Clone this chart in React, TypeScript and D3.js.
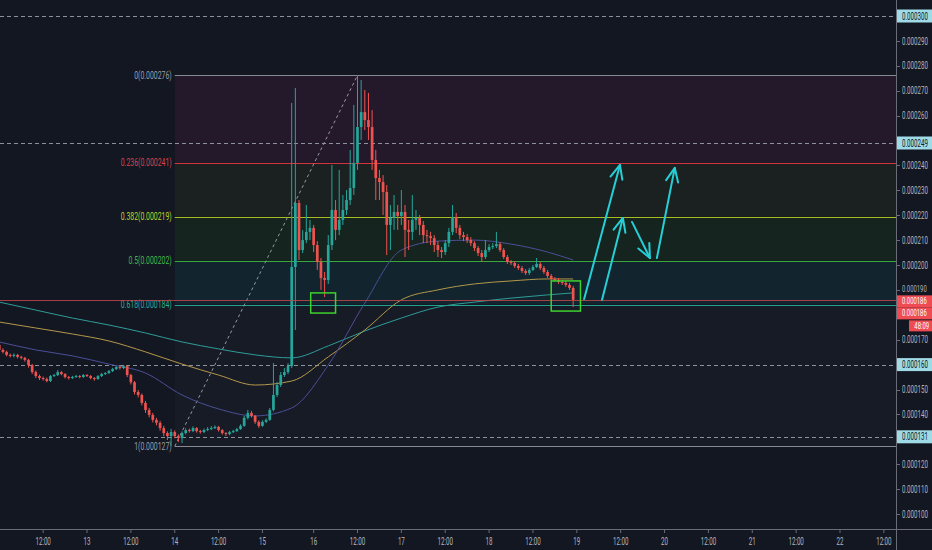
import React from 'react';
import * as d3 from 'd3';

// ---------- DATA (prices in units of 1e-6) ----------
const OPEN0 = 167.9;
const closes = [
  165.9,165.1,163.9,163.5,163.9,163.1,162.7,161.9,159.8,157.0,
  155.4,154.6,154.2,153.4,155.4,155.8,157.0,156.2,155.0,154.6,
  155.0,155.4,155.0,155.8,155.4,154.6,154.2,155.4,156.2,156.6,
  157.4,158.2,159.0,158.6,159.4,155.8,152.9,149.0,147.8,144.6,
  141.8,139.8,137.8,136.6,134.5,132.5,131.3,132.9,131.3,130.5,
  132.5,133.7,133.3,134.5,133.3,132.9,133.7,134.1,134.5,135.0,
  133.7,132.5,132.1,132.9,133.3,134.1,135.4,138.6,140.6,139.4,
  137.0,135.4,137.0,137.8,141.8,147.8,151.8,155.8,157.0,159.4,
  199.2,224.9,206.0,210.0,213.3,214.9,208.0,201.2,194.8,194.0,
  208.0,222.1,214.1,218.1,222.1,226.1,230.9,241.0,255.4,261.4,
  258.2,255.4,242.2,234.9,233.3,229.3,216.1,218.9,221.3,219.7,
  221.3,214.1,213.3,218.1,218.9,216.1,212.0,211.6,210.8,208.0,
  206.0,205.2,208.8,213.3,219.3,214.9,212.0,211.2,210.0,208.8,
  206.8,204.8,203.2,206.0,207.2,207.6,208.4,206.0,203.2,201.2,
  200.8,199.6,198.8,197.6,196.8,198.0,199.2,200.4,198.8,197.2,
  195.6,194.4,194.0,193.2,192.8,192.0,190.8,186.0,
];
const highs = [
  168.5,166.5,165.6,164.4,164.5,164.3,163.6,163.1,162.3,160.3,
  157.6,156.0,155.2,154.8,155.8,156.3,157.8,157.4,156.6,155.4,
  155.5,155.9,155.8,156.2,156.2,155.8,155.0,155.8,156.7,157.0,
  157.9,158.7,159.5,159.4,159.9,159.8,156.3,153.4,149.8,148.4,
  145.4,142.6,140.6,138.6,137.4,135.4,133.2,134.2,133.6,132.0,
  133.2,134.4,134.3,135.2,134.9,133.8,134.3,134.9,135.3,135.6,
  135.4,134.1,132.9,133.4,133.8,134.6,136.0,139.4,141.8,141.4,
  139.8,137.6,137.6,138.4,142.6,160.6,153.0,157.0,158.6,160.6,
  265.1,271.1,226.1,214.0,224.1,218.1,216.1,209.6,202.8,197.2,
  212.0,240.2,226.1,238.2,228.1,230.1,246.2,264.3,276.3,274.3,
  270.3,269.1,262.2,246.2,238.2,236.1,232.1,224.1,228.1,224.1,
  230.1,224.1,218.1,228.1,222.1,220.1,217.7,214.1,213.3,212.0,
  209.6,207.2,210.0,214.9,224.1,220.9,216.1,213.3,212.4,211.2,
  209.6,207.6,206.0,210.0,208.4,208.8,213.3,209.2,206.8,204.0,
  202.0,201.6,200.4,199.6,198.4,198.8,200.0,202.8,201.2,199.6,
  198.0,196.4,195.2,194.8,194.0,193.6,192.8,191.6,
];
const lows = [
  165.3,164.5,163.3,162.9,162.9,162.5,162.1,161.2,158.8,156.2,
  154.6,153.8,153.6,152.9,153.0,155.0,155.4,155.7,154.4,154.0,
  154.2,154.7,154.5,154.7,155.0,154.1,153.5,153.9,155.0,155.8,
  156.2,157.0,157.8,158.0,158.2,155.0,152.0,148.0,146.8,143.6,
  140.6,138.8,136.8,135.6,133.4,131.2,129.7,127.3,130.4,128.9,
  128.5,132.0,132.7,132.9,132.7,132.3,132.5,133.3,133.7,134.1,
  133.1,131.9,131.3,131.6,132.5,132.9,133.8,135.0,138.0,138.8,
  136.2,134.6,135.0,136.5,137.4,141.2,147.0,151.0,155.0,156.2,
  158.6,173.9,202.0,204.8,208.8,210.0,205.2,198.0,190.0,187.1,
  192.4,206.0,210.0,212.0,216.1,220.1,224.1,228.1,238.2,250.2,
  254.2,250.2,238.2,226.1,226.1,220.1,204.0,206.0,214.1,214.1,
  216.1,203.2,206.0,210.0,214.1,212.0,208.8,208.8,208.0,205.2,
  203.2,202.8,204.0,207.2,212.0,212.8,210.4,209.6,208.8,207.6,
  205.6,203.6,201.2,202.4,205.2,206.4,206.8,205.2,202.4,200.4,
  200.0,198.8,198.0,196.8,196.0,196.0,197.6,198.8,198.0,196.4,
  194.8,193.6,193.2,192.4,192.0,191.2,190.0,183.1,
];

// moving averages sampled at bar indices
const maBars = [0,10,20,30,40,50,60,70,80,90,100,110,120,130,140,150,157];
const maSlow = [185.1,181.9,178.7,175.9,172.7,169.1,166.3,163.9,162.7,167.5,173.5,178.7,183.1,185.1,186.7,188.0,188.8];
const maMid  = [177.1,174.7,172.3,169.5,165.1,160.2,155.8,151.8,153.4,163.1,173.9,186.0,190.0,192.4,193.6,194.4,194.4];
const maFast = [169.1,165.9,163.5,160.2,156.6,147.8,142.2,139.4,142.6,159.8,184.7,206.0,209.6,210.0,208.4,205.2,202.0];

// time axis
const timeTickBars = [12,24,36,48,60,72,86,98,110,122,134,146,158,170,182,194,206,218,230,242];
const timeTickLabels = ['12:00','13','12:00','14','12:00','15','16','12:00','17','12:00','18','12:00','19','12:00','20','12:00','21','12:00','22','12:00'];

// price axis
const priceTicks = [290,280,270,260,240,230,220,210,200,190,170,150,140,120,110,100];
const markedLevels = [300, 249, 160, 131];
const lastPrice = 186;
const countdown = '48:09';

// fibonacci retracement
const fibHigh = 276.2;
const fibLow = 127.2;
const fibStartBar = 48;
const fibEndBar = 98;
const fibRatios = [0, 0.236, 0.382, 0.5, 0.618, 1];
const fibLabels = ['0', '0.236', '0.382', '0.5', '0.618', '1'];
const fibColors = ['#878a93', '#d3343d', '#a9bd22', '#38a83c', '#1fa08f', '#878a93'];
const fibTextColors = ['#9a9da6', '#d8434b', '#bfd22e', '#45b649', '#2aae9c', '#9a9da6'];
const fibBands = ['#24192b', '#1b2121', '#16241f', '#12242d', '#161b26'];

// annotations (bar index / price)
const boxes = [
  { b0: 85.2, b1: 92.0, p0: 180.7, p1: 188.8 },
  { b0: 151.0, b1: 159.0, p0: 181.5, p1: 193.6 },
];
const arrows = [
  { b0: 160.0, p0: 186.3, b1: 169.8, p1: 240.2 },
  { b0: 164.9, p0: 186.0, b1: 170.6, p1: 218.9 },
  { b0: 173.1, p0: 217.3, b1: 178.0, p1: 202.8 },
  { b0: 179.9, p0: 202.8, b1: 184.8, p1: 239.0 },
];

// ---------- CHART ----------
const W = 932, H = 550;
const PLOT_R = 896, PLOT_B = 529;
const BG = '#131722';
const UP = '#26a69a', DOWN = '#ef5350';
const AXIS_TXT = '#b2b5be';
const FONT = 'Roboto, "Liberation Sans", sans-serif';

const fmt = (v: number) => (v * 1e-6).toFixed(6);

function Txt({ x, y, children, fill = AXIS_TXT, anchor = 'start', sx = 0.62, size = 10 }: any) {
  return (
    <text transform={`translate(${x},${y}) scale(${sx},1)`} fill={fill} fontSize={size}
      textAnchor={anchor} dominantBaseline="central" fontFamily={FONT}>{children}</text>
  );
}

export default function App() {
  React.useEffect(() => { document.body.style.margin = '0'; }, []);
  const x = d3.scaleLinear().domain([24, 230]).range([87, 840]);
  const y = d3.scaleLinear().domain([100, 300]).range([514, 16]);

  const bars = closes.map((c, i) => ({ i, o: i === 0 ? OPEN0 : closes[i - 1], c, h: highs[i], l: lows[i] }));

  const line = d3.line<number>().x((_, k) => x(maBars[k])).y(d => y(d)).curve(d3.curveMonotoneX);

  const fibX0 = x(fibStartBar);
  const fibPrices = fibRatios.map(r => fibHigh - r * (fibHigh - fibLow));
  const cy = (p: number) => Math.round(y(p)) + 0.5;

  const headLen = 15, headAng = 0.42;
  const yLast = y(lastPrice);

  return (
    <svg width={W} height={H} style={{ position: 'fixed', left: 0, top: 0, display: 'block' }}>
      <rect x={0} y={0} width={W} height={H} fill={BG} />

      {/* fib bands */}
      {fibBands.map((col, k) => (
        <rect key={'fb' + k} x={fibX0} width={PLOT_R - fibX0}
          y={y(fibPrices[k])} height={y(fibPrices[k + 1]) - y(fibPrices[k])} fill={col} />
      ))}

      {/* dashed horizontal levels */}
      {markedLevels.map(p => (
        <line key={'dl' + p} x1={0} x2={PLOT_R} y1={cy(p)} y2={cy(p)} stroke="#a3a6af" strokeWidth={1} strokeDasharray="4,3" opacity={0.85} />
      ))}

      {/* fib level lines */}
      {fibPrices.map((p, k) => (
        <line key={'fl' + k} x1={fibX0} x2={PLOT_R} y1={cy(p)} y2={cy(p)} stroke={fibColors[k]} strokeWidth={1} />
      ))}
      {fibPrices.map((p, k) => (
        <Txt key={'ft' + k} x={fibX0 - 3} y={y(p)} anchor="end" fill={fibTextColors[k]} sx={0.69}>
          {`${fibLabels[k]}(${fmt(p)})`}
        </Txt>
      ))}
      {/* fib trend line */}
      <line x1={x(fibStartBar)} y1={y(fibLow)} x2={x(fibEndBar)} y2={y(fibHigh)} stroke="#9598a1" strokeWidth={1} strokeDasharray="3,3" />

      {/* moving averages */}
      <path d={line(maSlow) || ''} fill="none" stroke="#2f9c98" strokeWidth={1} />
      <path d={line(maMid) || ''} fill="none" stroke="#b3974a" strokeWidth={1} />
      <path d={line(maFast) || ''} fill="none" stroke="#4b4f98" strokeWidth={1} />

      {/* candles */}
      {bars.map(b => {
        const col = b.c >= b.o ? UP : DOWN;
        const cx = x(b.i);
        const top = y(Math.max(b.o, b.c));
        const hgt = Math.max(1, Math.abs(y(b.o) - y(b.c)));
        return (
          <g key={'c' + b.i}>
            <line x1={cx} x2={cx} y1={y(b.h)} y2={y(b.l)} stroke={col} strokeWidth={1} />
            <rect x={cx - 1.35} width={2.7} y={top} height={hgt} fill={col} />
          </g>
        );
      })}

      {/* last price line */}
      <line x1={0} x2={PLOT_R} y1={cy(lastPrice)} y2={cy(lastPrice)} stroke="#c8474f" strokeWidth={1} opacity={0.8} />

      {/* annotation boxes */}
      {boxes.map((bx, k) => (
        <rect key={'bx' + k} x={x(bx.b0)} width={x(bx.b1) - x(bx.b0)} y={y(bx.p1)} height={y(bx.p0) - y(bx.p1)}
          fill="none" stroke="#3fd12c" strokeWidth={1.5} />
      ))}

      {/* arrows */}
      {arrows.map((a, k) => {
        const x0 = x(a.b0), y0 = y(a.p0), x1 = x(a.b1), y1 = y(a.p1);
        const ang = Math.atan2(y0 - y1, x0 - x1);
        const h1 = [x1 + headLen * Math.cos(ang + headAng), y1 + headLen * Math.sin(ang + headAng)];
        const h2 = [x1 + headLen * Math.cos(ang - headAng), y1 + headLen * Math.sin(ang - headAng)];
        return (
          <g key={'ar' + k} stroke="#26cfd6" strokeWidth={2} fill="none" strokeLinecap="round" strokeLinejoin="round">
            <line x1={x0} y1={y0} x2={x1} y2={y1} />
            <polyline points={`${h1[0]},${h1[1]} ${x1},${y1} ${h2[0]},${h2[1]}`} />
          </g>
        );
      })}

      {/* axes background & borders */}
      <rect x={PLOT_R} y={0} width={W - PLOT_R} height={H} fill={BG} />
      <rect x={0} y={PLOT_B} width={W} height={H - PLOT_B} fill={BG} />
      <line x1={PLOT_R + 0.5} x2={PLOT_R + 0.5} y1={0} y2={H} stroke="#6a6d78" strokeWidth={1} />
      <line x1={0} x2={W} y1={PLOT_B + 0.5} y2={PLOT_B + 0.5} stroke="#6a6d78" strokeWidth={1} />

      {/* price axis */}
      {priceTicks.map(p => (
        <g key={'pt' + p}>
          <line x1={PLOT_R} x2={PLOT_R + 4} y1={cy(p)} y2={cy(p)} stroke="#6a6d78" />
          <Txt x={PLOT_R + 6} y={y(p) - (p === 190 ? 1 : 0)} size={p === 190 ? 9.5 : 10}>{fmt(p)}</Txt>
        </g>
      ))}
      {markedLevels.map(p => (
        <g key={'pm' + p}>
          <rect x={PLOT_R + 1} width={W - PLOT_R - 1} y={y(p) - 6.5} height={13} fill="#9fdbe6" />
          <Txt x={PLOT_R + 6} y={y(p)} fill="#131722">{fmt(p)}</Txt>
        </g>
      ))}
      <rect x={PLOT_R + 1} width={W - PLOT_R - 1} y={yLast - 4.5} height={12} fill="#ef4b53" />
      <Txt x={PLOT_R + 6} y={yLast + 1.5} fill="#ffffff" size={9.5}>{fmt(lastPrice)}</Txt>
      <rect x={PLOT_R + 1} width={W - PLOT_R - 1} y={yLast + 7.5} height={12} fill="#ef4b53" />
      <Txt x={PLOT_R + 6} y={yLast + 13.5} fill="#ffffff" size={9.5}>{fmt(lastPrice)}</Txt>
      <rect x={PLOT_R + 13} width={W - PLOT_R - 13} y={yLast + 20.5} height={11} fill="#ef4b53" />
      <Txt x={W - 3} y={yLast + 26} fill="#ffffff" anchor="end" size={9.5}>{countdown}</Txt>

      {/* time axis */}
      {timeTickBars.map((b, k) => (
        <g key={'tt' + k}>
          <line x1={x(b)} x2={x(b)} y1={PLOT_B} y2={PLOT_B + 4} stroke="#6a6d78" />
          <Txt x={x(b)} y={541} anchor="middle">{timeTickLabels[k]}</Txt>
        </g>
      ))}
    </svg>
  );
}
